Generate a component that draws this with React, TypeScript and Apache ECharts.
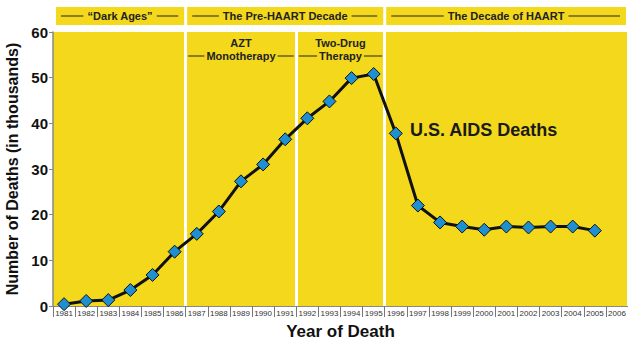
import React, { useEffect, useRef } from "react";
import * as echarts from "echarts";

const years = ["1981","1982","1983","1984","1985","1986","1987","1988","1989","1990","1991","1992","1993","1994","1995","1996","1997","1998","1999","2000","2001","2002","2003","2004","2005","2006"];
const deaths = [0.4, 1.1, 1.3, 3.5, 6.8, 11.9, 15.8, 20.7, 27.3, 31.0, 36.5, 41.1, 44.8, 49.9, 50.8, 37.8, 22.0, 18.3, 17.4, 16.7, 17.4, 17.2, 17.4, 17.4, 16.5, null];
const eraStarts = ["1987", "1996"];
const therapyStarts = ["1992"];
const eraTitles = ["\u201cDark Ages\u201d", "The Pre-HAART Decade", "The Decade of HAART"];
const yTicks = [0, 10, 20, 30, 40, 50, 60];

const YELLOW = "#F3D81C";
const FONT = "'Liberation Sans', Arial, Helvetica, sans-serif";

export default function App() {
  const ref = useRef<HTMLDivElement>(null);
  useEffect(() => {
    document.body.style.margin = "0";
    const chart = echarts.init(ref.current!, undefined, { renderer: "svg" });
    const splitIdx = [...eraStarts, ...therapyStarts].map((y) => years.indexOf(y));
    chart.setOption({
      animation: false,
      backgroundColor: "#ffffff",
      grid: {
        left: 53, right: 0, top: 32, bottom: 37,
        outerBoundsMode: "none",
        containLabel: false,
        show: true, backgroundColor: YELLOW, borderWidth: 0,
      },
      xAxis: {
        type: "category",
        data: years,
        boundaryGap: true,
        name: "Year of Death",
        nameLocation: "middle",
        nameGap: 17,
        nameTextStyle: { fontFamily: FONT, fontWeight: "bold", fontSize: 17, color: "#111" },
        axisLine: { show: true, lineStyle: { color: "#888", width: 1 } },
        axisTick: { show: true, length: 11, lineStyle: { color: "#777", width: 1 } },
        axisLabel: { interval: 0, fontFamily: "'Liberation Sans Narrow', 'Liberation Sans', Arial", fontSize: 8, color: "#333", margin: 3 },
        splitLine: {
          show: true,
          interval: (i: number) => splitIdx.includes(i),
          lineStyle: { color: "#ffffff", width: 3 },
        },
      },
      yAxis: {
        type: "value",
        min: yTicks[0], max: yTicks[yTicks.length - 1], interval: 10,
        name: "Number of Deaths (in thousands)",
        nameLocation: "middle",
        nameGap: 27,
        nameTextStyle: { fontFamily: FONT, fontWeight: "bold", fontSize: 16, color: "#111" },
        axisLine: { show: true, lineStyle: { color: "#888", width: 1.5 } },
        axisTick: { show: true, length: 4, lineStyle: { color: "#888" } },
        axisLabel: { fontFamily: FONT, fontWeight: "bold", fontSize: 15, color: "#111", margin: 5 },
        splitLine: { show: false },
      },
      series: [{
        type: "line",
        data: deaths,
        symbol: "diamond",
        symbolSize: 13,
        lineStyle: { color: "#111", width: 3 },
        itemStyle: { color: "#1E8FD0", borderColor: "#111", borderWidth: 1 },
        z: 5,
      }],
    });

    const c0 = chart.convertToPixel({ xAxisIndex: 0 }, 0) as number;
    const c1 = chart.convertToPixel({ xAxisIndex: 0 }, 1) as number;
    const w = c1 - c0;
    const bx = (y: string) => (chart.convertToPixel({ xAxisIndex: 0 }, years.indexOf(y)) as number) - w / 2;
    const left = c0 - w / 2;
    const right = (chart.convertToPixel({ xAxisIndex: 0 }, years.length - 1) as number) + w / 2;
    const b1 = bx(eraStarts[0]);
    const b2 = bx(eraStarts[1]);
    const b3 = bx(therapyStarts[0]);
    const segs = [[left + 3, b1 - 1.5], [b1 + 1.5, b2 - 1.5], [b2 + 1.5, right - 2]];
    const graphics: any[] = [];
    segs.forEach(([a, b], i) => {
      graphics.push({ type: "rect", shape: { x: a, y: 7, width: b - a, height: 18 }, style: { fill: YELLOW }, z: 1 });
      graphics.push({ type: "line", shape: { x1: a + 5, y1: 16, x2: b - 6, y2: 16 }, style: { stroke: "#222", lineWidth: 1 }, z: 2 });
      graphics.push({
        type: "text", x: (a + b) / 2, y: 16, z: 3,
        style: { text: eraTitles[i], fontFamily: FONT, fontWeight: "bold", fontSize: 11, fill: "#222", align: "center", verticalAlign: "middle", backgroundColor: YELLOW, padding: [0, 4] },
      });
    });
    const therapies = [[b1 + 1.5, b3 - 1.5, "AZT", "Monotherapy"], [b3 + 1.5, b2 - 1.5, "Two-Drug", "Therapy"]] as any[];
    therapies.forEach(([a, b, t1, t2]) => {
      graphics.push({ type: "line", shape: { x1: a + 1, y1: 56, x2: b - 1, y2: 56 }, style: { stroke: "#222", lineWidth: 1 }, z: 2 });
      graphics.push({ type: "text", x: (a + b) / 2, y: 43, z: 3, style: { text: t1, fontFamily: FONT, fontWeight: "bold", fontSize: 11, fill: "#222", align: "center", verticalAlign: "middle" } });
      graphics.push({ type: "text", x: (a + b) / 2, y: 56, z: 3, style: { text: t2, fontFamily: FONT, fontWeight: "bold", fontSize: 11, fill: "#222", align: "center", verticalAlign: "middle", backgroundColor: YELLOW, padding: [0, 2] } });
    });
    graphics.push({ type: "text", x: 410, y: 130, z: 3, style: { text: "U.S. AIDS Deaths", fontFamily: FONT, fontWeight: "bold", fontSize: 18, fill: "#1a1a1a", align: "left", verticalAlign: "middle" } });
    chart.setOption({ graphic: graphics });

    return () => chart.dispose();
  }, []);
  return <div ref={ref} style={{ width: 628, height: 343 }} />;
}
